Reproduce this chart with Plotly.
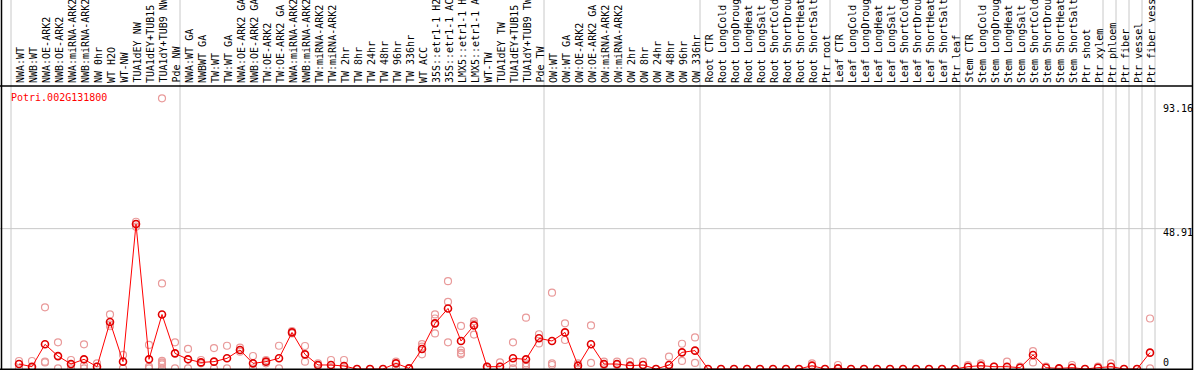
import plotly.graph_objects as go

W, H = 1194, 370

labels = [
    "NWA:WT", "NWB:WT", "NWA:OE-ARK2", "NWB:OE-ARK2", "NWA:miRNA-ARK2", "NWB:miRNA-ARK2",
    "NW 0hr", "WT H2O", "WT-NW", "TUA1dEY NW", "TUA1dEY+TUB15", "TUA1dY+TUB9 NW", "Pde NW",
    "NWA:WT GA", "NWBWT GA", "TW:WT", "TW:WT GA", "NWA:OE-ARK2 GA", "NWB:OE-ARK2 GA",
    "TW:OE-ARK2", "TW:OE-ARK2 GA", "NWA:miRNA-ARK2", "NWB:miRNA-ARK2", "TW:miRNA-ARK2",
    "TW:miRNA-ARK2", "TW 2hr", "TW 8hr", "TW 24hr", "TW 48hr", "TW 96hr", "TW 336hr",
    "WT ACC", "35S::etr1-1 H2O", "35S::etr1-1 ACC", "LMX5::etr1-1 H2O", "LMX5::etr1-1 ACC",
    "WT-TW", "TUA1dEY TW", "TUA1dEY+TUB15", "TUA1dY+TUB9 TW", "Pde TW",
    "OW:WT", "OW:WT GA", "OW:OE-ARK2", "OW:OE-ARK2 GA", "OW:miRNA-ARK2", "OW:miRNA-ARK2",
    "OW 2hr", "OW 8hr", "OW 24hr", "OW 48hr", "OW 96hr", "OW 336hr",
    "Root CTR", "Root LongCold", "Root LongDrought", "Root LongHeat", "Root LongSalt",
    "Root ShortCold", "Root ShortDrought", "Root ShortHeat", "Root ShortSalt", "Ptr root",
    "Leaf CTR", "Leaf LongCold", "Leaf LongDrought", "Leaf LongHeat", "Leaf LongSalt",
    "Leaf ShortCold", "Leaf ShortDrought", "Leaf ShortHeat", "Leaf ShortSalt", "Ptr leaf",
    "Stem CTR", "Stem LongCold", "Stem LongDrought", "Stem LongHeat", "Stem LongSalt",
    "Stem ShortCold", "Stem ShortDrought", "Stem ShortHeat", "Stem ShortSalt", "Ptr shoot",
    "Ptr xylem", "Ptr phloem", "Ptr fiber", "Ptr vessel", "Ptr fiber vessel",
]

mean_values = [
    1.74, 0.81, 8.6, 4.5, 1.74, 3.37, 0.81, 16.4, 2.56, 50.5, 3.37, 19.0, 5.45,
    3.37, 2.3, 2.56, 3.72, 6.62, 1.97, 2.56, 3.72, 12.75, 5.1, 1.4, 1.4, 1.04, 0, 0, 0,
    1.97, 0.23, 6.97, 15.9, 21.1, 9.76, 15.2, 0.81, 0.81, 3.72, 3.37, 10.7,
    9.76, 12.75, 1.16, 8.6, 1.74, 1.74, 1.16, 1.39, 0, 1.39, 5.8, 6.4,
    0, 0, 0, 0, 0, 0, 0, 0, 1.16, 0,
    0.23, 0, 0, 0, 0, 0, 0, 0, 0, 0,
    0.81, 1.16, 0.81, 0.81, 0.46, 4.9, 0.46, 0.23, 0.46, 0, 0.46,
    0.81, 0, 0, 5.7,
]

replicate_values = [
    [2.79, 0.2], [2.79, 0.2], [21.5, 2.56, 2.3], [9.3, 0.2], [3.14, 1.39, 0.2],
    [8.6, 1.16, 0.2], [1.97, 0.81], [19.0, 14.9, 15.5], [4.9, 0.2], [51.3, 49.6, 50.5],
    [8.4, 0.8, 0.2], [94.3, 29.8, 2.8, 2.3, 2.0, 1.6, 0.2], [9.3, 0.2],
    [7.0, 0.2], [3.14, 1.97], [7.3, 0.2], [8.1, 0.2], [7.43, 6.04], [4.53, 0.2],
    [3.14, 1.97], [8.1, 0.2], [13.2, 12.4], [8.01, 2.56], [1.97, 1.16], [3.14, 0.2],
    [3.14, 0.2], [0], [0], [0], [2.56, 0.81], [0.23], [8.7, 7.78, 5.11],
    [19.0, 17.6, 12.4], [30.6, 23.4, 9.29], [15.0, 6.5, 5.6, 5.1], [16.6, 15.8, 12.0],
    [0.81, 0.23], [2.32, 0.81], [9.29, 2.1, 0.23], [17.9, 1.97, 1.39, 0.81], [12.1, 8.9],
    [26.6, 1.97, 1.39], [15.9, 10.1], [1.97, 0.23], [15.2, 2.1], [2.56, 1.39],
    [2.56, 1.39], [2.56, 0.81], [2.56, 1.39], [0], [4.3, 0.23], [8.8, 2.8], [11.0, 2.1],
    [0], [0], [0], [0], [0], [0], [0], [0], [1.97], [0],
    [1.39], [0], [0], [0], [0], [0], [0], [0], [0], [0],
    [1.39], [1.97], [0.81], [2.56], [0.81], [6.2, 2.3], [0.81], [0], [1.39], [0], [0.81],
    [1.97], [0], [0], [17.6, 0.23],
]

group_starts = [0, 13, 41, 53, 63, 73, 84, 85, 86, 87, 88]
y_tick_values = ["93.16", "48.91", "0"]
gene_name = "Potri.002G131800"
grid_value = 48.91

# pixel geometry
X0, DX = 19.0, 13.0
Y0, SY = 369.0, 2.87
R = H / SY
ymin = -(H - Y0) / SY
ymax = ymin + R
xmin = -X0 / DX
xmax = (W - X0) / DX

def px(x):
    return x / W

def py(y):
    return 1 - y / H

xs = list(range(len(labels)))
rx, ry = [], []
for i, reps in enumerate(replicate_values):
    for v in reps:
        rx.append(i)
        ry.append(v)

fig = go.Figure()
fig.add_trace(go.Scatter(
    x=rx, y=ry, mode="markers",
    marker=dict(symbol="circle-open", size=7, color="#e99a9a", line=dict(width=1.2)),
    cliponaxis=False, hoverinfo="skip",
))
fig.add_trace(go.Scatter(
    x=xs, y=mean_values, mode="lines+markers",
    line=dict(color="#ff0000", width=1),
    marker=dict(symbol="circle-open", size=7, color="#e00000", line=dict(width=1.6)),
    cliponaxis=False, hoverinfo="skip",
))

shapes = []
for b in group_starts:
    shapes.append(dict(type="line", xref="x", yref="paper", x0=b - 8 / 13, x1=b - 8 / 13,
                       y0=0, y1=1, line=dict(color="#c8c8c8", width=1), layer="below"))
shapes.append(dict(type="line", xref="paper", yref="y", x0=0, x1=px(1192), y0=grid_value,
                   y1=grid_value, line=dict(color="#c8c8c8", width=1), layer="below"))
# frame lines
shapes.append(dict(type="line", xref="paper", yref="paper", x0=0, x1=px(1193), y0=py(86), y1=py(86),
                   line=dict(color="black", width=1.5)))
shapes.append(dict(type="line", xref="paper", yref="paper", x0=0, x1=px(1193), y0=py(369.3), y1=py(369.3),
                   line=dict(color="black", width=1.5)))
shapes.append(dict(type="line", xref="paper", yref="paper", x0=px(1.5), x1=px(1.5), y0=0, y1=1,
                   line=dict(color="black", width=1.5)))
shapes.append(dict(type="line", xref="paper", yref="paper", x0=px(1192.5), x1=px(1192.5), y0=0, y1=1,
                   line=dict(color="black", width=1.5)))

annotations = []
for i, lab in enumerate(labels):
    annotations.append(dict(x=i, xref="x", y=py(84), yref="paper", text=lab, textangle=-90,
                            showarrow=False, xanchor="center", yanchor="bottom", xshift=1,
                            font=dict(family="DejaVu Sans Mono", size=10, color="black"),
                            borderpad=0))
annotations.append(dict(x=px(9), y=py(97), xref="paper", yref="paper", text=gene_name,
                        showarrow=False, xanchor="left", yanchor="middle",
                        font=dict(family="DejaVu Sans Mono", size=10, color="#ff0000")))
for t, yy in zip(y_tick_values, [108, 232.5, 362]):
    annotations.append(dict(x=px(1161), y=py(yy), xref="paper", yref="paper", text=t,
                            showarrow=False, xanchor="left", yanchor="middle",
                            font=dict(family="DejaVu Sans Mono", size=10, color="black")))

fig.update_layout(
    width=W, height=H, margin=dict(l=0, r=0, t=0, b=0),
    paper_bgcolor="white", plot_bgcolor="white", showlegend=False,
    xaxis=dict(range=[xmin, xmax], visible=False, fixedrange=True),
    yaxis=dict(range=[ymin, ymax], visible=False, fixedrange=True),
    shapes=shapes, annotations=annotations,
)
fig.write_html(
    "out.html",
    config={"displayModeBar": False},
    post_script="document.body.style.margin='0px';document.body.style.overflow='hidden';",
)
